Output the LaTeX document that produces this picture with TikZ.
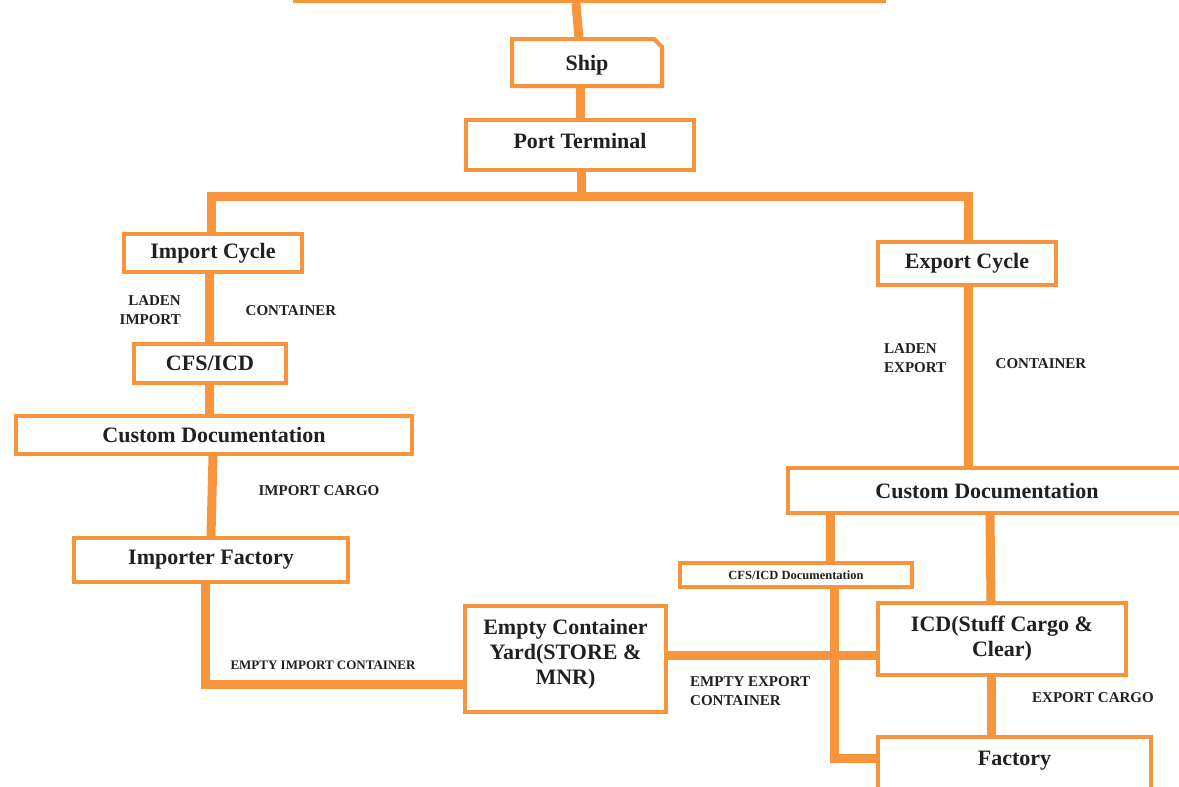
\documentclass[tikz,border=0pt]{standalone}
\usepackage{fontspec}
\setmainfont{Liberation Serif}
\definecolor{org}{HTML}{F7943C}
\definecolor{ink}{HTML}{231F20}
\begin{document}
\begin{tikzpicture}[x=1pt,y=-1pt,
  box/.style={draw=org, line width=4pt, fill=white, inner sep=0pt, text=ink,
    font=\bfseries\fontsize{22}{25}\selectfont, align=center},
  conn/.style={draw=org, line width=9pt, line join=miter},
  lbl/.style={text=ink, font=\bfseries\fontsize{15}{19}\selectfont, inner sep=0pt}]
\useasboundingbox (0,0) rectangle (1179,787);
\clip (0,0) rectangle (1179,787);

% boxes
\node[box, minimum width=589pt, minimum height=41pt] (top) at (589.5,-19.5) {};
\node[box, draw=none, fill=none, outer sep=0pt, minimum width=150pt, minimum height=47pt, text depth=0pt] (ship) at (587,62.5) {Ship};
\draw[org, line width=4pt, line join=miter] (ship.south west) -- (ship.north west) -- ([xshift=-8pt]ship.north east) -- ([yshift=-8pt]ship.north east) -- (ship.south east) -- cycle;
\node[box, minimum width=228pt, minimum height=50pt, text depth=8pt] (port) at (580,145) {Port Terminal};
\node[box, minimum width=178pt, minimum height=38pt] (importcycle) at (213,253) {Import Cycle};
\node[box, minimum width=152pt, minimum height=39pt] (cfsicd) at (210,363.5) {CFS/ICD};
\node[box, minimum width=396pt, minimum height=38pt] (customL) at (214,435) {Custom Documentation};
\node[box, minimum width=274pt, minimum height=44pt] (impfactory) at (211,560) {Importer Factory};
\node[box, minimum width=201pt, minimum height=106pt, text depth=15pt] (ecy) at (565.5,659) {Empty Container\\Yard(STORE \&\\MNR)};
\node[box, minimum width=178pt, minimum height=43pt] (exportcycle) at (967,263.5) {Export Cycle};
\node[box, minimum width=398pt, minimum height=45pt] (customR) at (987,490.5) {Custom Documentation};
\node[box, minimum width=232pt, minimum height=24pt, font=\bfseries\fontsize{12.5}{15}\selectfont] (cfsdoc) at (796,575) {CFS/ICD Documentation};
\node[box, minimum width=248pt, minimum height=72pt] (icd) at (1002,639) {ICD(Stuff Cargo \&\\Clear)};
\node[box, minimum width=273pt, minimum height=76pt, text height=16pt, text depth=36pt] (factory) at (1014.5,775) {Factory};

% connectors
\coordinate (bar) at (581,196);
\draw[conn] (576,0 |- top.south) -- (579,0 |- ship.north);
\draw[conn] (580,0 |- ship.south) -- (580,0 |- port.north);
\draw[conn] (581,0 |- port.south) -- (bar);
\draw[conn] (211,0 |- importcycle.north) |- (bar) -| (968,0 |- exportcycle.north);
\draw[conn] (209,0 |- importcycle.south) -- (209,0 |- cfsicd.north);
\draw[conn] (209,0 |- cfsicd.south) -- (209,0 |- customL.north);
\draw[conn] (213,0 |- customL.south) -- (211,0 |- impfactory.north);
\draw[conn] (205,0 |- impfactory.south) |- (ecy.west |- 0,684);
\draw[conn] (968,0 |- exportcycle.south) -- (968,0 |- customR.north);
\draw[conn] (830,0 |- customR.south) -- (830,0 |- cfsdoc.north);
\draw[conn] (990,0 |- customR.south) -- (991,0 |- icd.north);
\draw[conn] (834,0 |- cfsdoc.south) |- (factory.west |- 0,758);
\draw[conn] (ecy.east |- 0,655) -- (icd.west |- 0,655);
\draw[conn] (991,0 |- icd.south) -- (991,0 |- factory.north);

% labels
\node[lbl, anchor=east, align=right] (ladenI) at (181,310.5) {LADEN\\IMPORT};
\node[lbl] (contI) at (291,311) {CONTAINER};
\node[lbl] (impcargo) at (319,491) {IMPORT CARGO};
\node[lbl, font=\bfseries\fontsize{13}{16}\selectfont] (emptyimp) at (323,665) {EMPTY IMPORT CONTAINER};
\node[lbl, anchor=west, align=left] (ladenE) at (884,358) {LADEN\\EXPORT};
\node[lbl] (contE) at (1041,364) {CONTAINER};
\node[lbl, anchor=west, align=left] (emptyexp) at (690,691) {EMPTY EXPORT\\CONTAINER};
\node[lbl] (expcargo) at (1093,698) {EXPORT CARGO};
\end{tikzpicture}
\end{document}
